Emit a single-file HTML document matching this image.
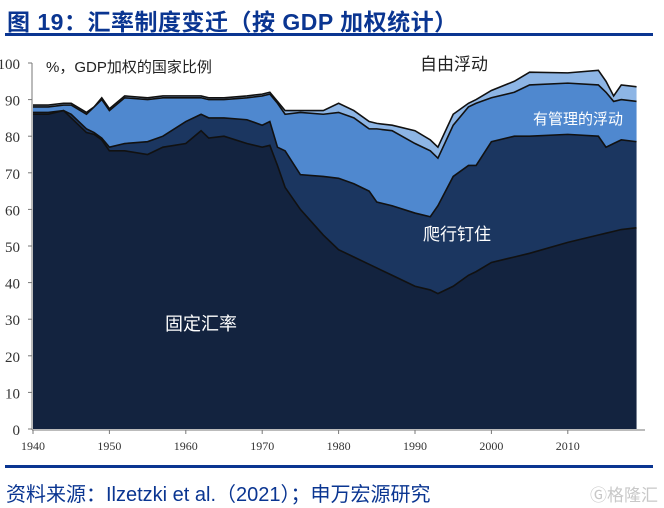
<!DOCTYPE html>
<html><head><meta charset="utf-8"><style>
body{margin:0;width:664px;height:508px;background:#fff;overflow:hidden;font-family:"Liberation Sans","Noto Sans CJK SC",sans-serif;position:relative}
.t{position:absolute;white-space:nowrap}
</style></head><body>
<div class="t" style="left:7px;top:3px;font-size:23px;font-weight:bold;color:#0a3591;letter-spacing:0.5px">图 19：汇率制度变迁（按 GDP 加权统计）</div>
<div style="position:absolute;left:5px;top:33px;width:648px;height:3px;background:#0a3591"></div>
<svg width="664" height="508" style="position:absolute;left:0;top:0" id="svg"></svg>
<div style="position:absolute;left:5px;top:465px;width:648px;height:3px;background:#0a3591"></div>
<div class="t" style="left:6px;top:478px;font-size:20px;color:#0a3591">资料来源：Ilzetzki et al.（2021）；申万宏源研究</div>
<div class="t" style="left:590px;top:481px;font-size:17px;color:#c8c8c8">Ⓖ格隆汇</div>
<script>
const years=[1940,1942,1944,1945,1947,1948,1949,1950,1952,1955,1957,1960,1962,1963,1965,1968,1970,1971,1972,1973,1975,1978,1980,1982,1984,1985,1987,1990,1992,1993,1995,1997,1998,2000,2003,2005,2010,2014,2015,2016,2017,2019];
const fixedTop=[86,86,87,85,81,80.5,79,76,76,75,77,78,81.5,79.5,80,78,77,77.5,72,66,60,53,49,47,45,44,42,39,38,37,39,42,43,45.5,47,48,51,53,53.5,54,54.5,55];
const crawlTop=[86.5,86.5,87,86,82,81,79.5,77,78,78.5,80,84,86,85,85,84.5,83,84,77,76,69.5,69,68.5,67,65,62,61,59,58,61,69,72,72,78.5,80,80,80.5,80,77,78,79,78.5];
const managedTop=[88,88,88.5,88.5,86,88,90,87,90.5,90,90.5,90.5,90.5,90,90,90.5,91,91.5,89,86,86.5,86,86.5,85,82,82,81.5,78,76,74,83,88,89,90.5,92,94,94.5,94,92,89.5,90,89.5];
const totalTop=[88.5,88.5,89,89,86.5,88,90.5,87.5,91,90.5,91,91,91,90.5,90.5,91,91.5,92,89.5,87,87,87,89,87,84,83.5,83,81.5,79,77,86,89,90,92.5,95,97.5,97.3,98,95,91,94,93.5];
const yTicks=[0,10,20,30,40,50,60,70,80,90,100];
const xTicks=[1940,1950,1960,1970,1980,1990,2000,2010];
const svg=document.getElementById('svg');const NS='http://www.w3.org/2000/svg';
const X=y=>33+(y-1940)*7.64, Y=v=>429-v*3.66;
function mk(t,a){const e=document.createElementNS(NS,t);for(const k in a)e.setAttribute(k,a[k]);svg.appendChild(e);return e;}
function band(lo,hi,fill,name){let p=years.map((y,i)=>X(y)+','+Y(hi[i]));let q=years.map((y,i)=>X(y)+','+Y(lo?lo[i]:0)).reverse();
const e=mk('polygon',{points:p.concat(q).join(' '),fill:fill});


const l=mk('polyline',{points:p.join(' '),fill:'none',stroke:'#111','stroke-width':1.6});

}
band(managedTop,totalTop,'#8db5e5','free-float-area');
band(crawlTop,managedTop,'#4f88cf','managed-float-area');
band(fixedTop,crawlTop,'#1b3660','crawling-peg-area');
band(null,fixedTop,'#13233f','fixed-area');
const ax=mk('line',{x1:32,y1:Y(100),x2:32,y2:430,stroke:'#777','stroke-width':1});

const bx=mk('line',{x1:32,y1:430,x2:645,y2:430,stroke:'#777','stroke-width':1});

yTicks.forEach(v=>{mk('line',{x1:28,x2:32,y1:Y(v),y2:Y(v),stroke:'#777'});
const t=mk('text',{x:20,y:Y(v)+6,'text-anchor':'end','font-size':15,fill:'#333','font-family':'Liberation Serif,serif'});t.textContent=v;
});
xTicks.forEach(v=>{mk('line',{x1:X(v),x2:X(v),y1:430,y2:434,stroke:'#777'});
const t=mk('text',{x:X(v),y:450,'text-anchor':'middle','font-size':12,fill:'#333','font-family':'Liberation Serif,serif'});t.textContent=v;
});
function lab(x,y,s,txt,c,n){const t=mk('text',{x:x,y:y,'font-size':s,fill:c,'font-family':'Liberation Sans,Noto Sans CJK SC,sans-serif'});t.textContent=txt;
}
lab(46,72,15,'%，GDP加权的国家比例','#222','y-axis-unit');
lab(420,70,17,'自由浮动','#222','label-free-float');
lab(533,124,15,'有管理的浮动','#fff','label-managed-float');
lab(423,240,17,'爬行钉住','#fff','label-crawling-peg');
lab(165,330,18,'固定汇率','#fff','label-fixed');
</script>
</body></html>
